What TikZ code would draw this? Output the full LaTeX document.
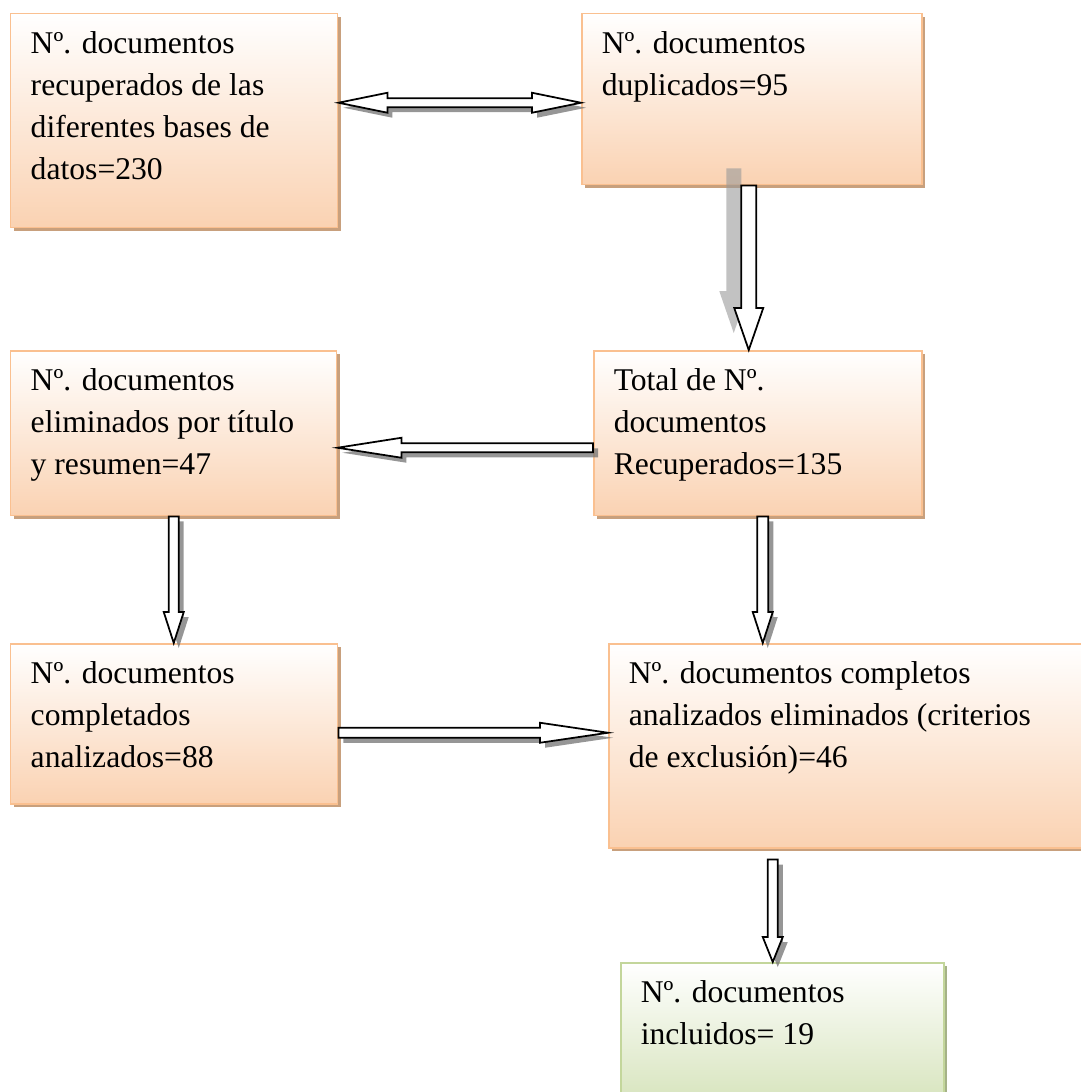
\documentclass[tikz,border=0pt]{standalone}
\usepackage{fontspec}
\setmainfont{Liberation Serif}
\usetikzlibrary{calc,shadows}

\definecolor{boxline}{RGB}{250,192,144}
\definecolor{boxfill}{RGB}{250,210,178}
\definecolor{boxshade}{RGB}{200,160,125}
\definecolor{greenline}{RGB}{195,214,155}
\definecolor{greenfill}{RGB}{215,228,189}
\definecolor{greenshade}{RGB}{165,178,135}

\newlength\px
\setlength\px{0.02cm}
\newcommand\boxtext[3]{\parbox[t][#2\px][t]{#1\px}{#3}}

% block arrow: [options]{tail}{tip}{head length}{shaft half}{head half}
\newcommand\blockarrow[6][]{%
  \coordinate (bt) at #2;
  \coordinate (bp) at #3;
  \coordinate (bh) at ($(bp)!#4*0.02cm!(bt)$);
  \draw[arrowline,#1] ($(bt)!#5*0.02cm!90:(bp)$) -- ($(bh)!#5*0.02cm!-90:(bt)$)
    -- ($(bh)!#6*0.02cm!-90:(bt)$) -- (bp) -- ($(bh)!#6*0.02cm!90:(bt)$)
    -- ($(bh)!#5*0.02cm!90:(bt)$) -- ($(bt)!#5*0.02cm!-90:(bp)$) -- cycle;
}
% arrow with a head at both ends
\newcommand\twinarrow[6][]{%
  \coordinate (bt) at #2;
  \coordinate (bp) at #3;
  \coordinate (ha) at ($(bt)!#4*0.02cm!(bp)$);
  \coordinate (hb) at ($(bp)!#4*0.02cm!(bt)$);
  \draw[arrowline,#1] (bt) -- ($(ha)!#6*0.02cm!90:(bp)$) -- ($(ha)!#5*0.02cm!90:(bp)$)
    -- ($(hb)!#5*0.02cm!-90:(bt)$) -- ($(hb)!#6*0.02cm!-90:(bt)$) -- (bp)
    -- ($(hb)!#6*0.02cm!90:(bt)$) -- ($(hb)!#5*0.02cm!90:(bt)$)
    -- ($(ha)!#5*0.02cm!-90:(bp)$) -- ($(ha)!#6*0.02cm!-90:(bp)$) -- cycle;
}

\tikzset{
  card/.style={line width=0.03cm, top color=white, anchor=north west,
    inner xsep=0.4cm, inner ysep=0.36cm, font=\fontsize{18}{23.9}\selectfont},
  stage/.style={card, draw=boxline, bottom color=boxfill,
    drop shadow={shadow xshift=0.06cm, shadow yshift=-0.06cm, fill=boxshade, opacity=1}},
  final/.style={card, draw=greenline, bottom color=greenfill,
    drop shadow={shadow xshift=0.06cm, shadow yshift=-0.06cm, fill=greenshade, opacity=1}},
  arrowline/.style={draw=black, line width=0.035cm, fill=white, line join=miter},
  arrowshade/.style={drop shadow={shadow xshift=0.1cm, shadow yshift=-0.1cm, fill=black!55, opacity=.75}}
}

\begin{document}
\begin{tikzpicture}[x=0.02cm, y=-0.02cm]
  \useasboundingbox (0,0) rectangle (1080,1092);

  \node[stage] (src) at (10,13) {\boxtext{287}{178}{Nº. documentos\\ recuperados de las\\ diferentes bases de\\ datos=230}};
  \node[stage] (dup) at (581,13) {\boxtext{300}{135}{Nº. documentos\\ duplicados=95}};
  \node[stage] (elim) at (10,350) {\boxtext{286}{129}{Nº. documentos\\ eliminados por título\\ y resumen=47}};
  \node[stage] (total) at (593,350) {\boxtext{288}{129}{Total de Nº.\\ documentos\\ Recuperados=135}};
  \node[stage] (compl) at (10,643) {\boxtext{287}{124}{Nº. documentos\\ completados\\ analizados=88}};
  \node[stage] (excl) at (608,643) {\boxtext{440}{168}{Nº. documentos completos\\ analizados eliminados (criterios\\ de exclusión)=46}};
  \node[final] (incl) at (620,962) {\boxtext{283}{104}{Nº. documentos\\ incluidos= 19}};

  \twinarrow[arrowshade]{($(src.east)+(0,-18)$)}{($(src.east -| dup.west)+(0,-18)$)}{49}{4.5}{10}
  \blockarrow[drop shadow={shadow xshift=-0.3cm, shadow yshift=0.34cm, fill=black!40, opacity=.6}]{($(dup.south)+(-3,0)$)}{($(dup.south |- total.north)+(-3,0)$)}{42}{7.5}{14.5}
  \blockarrow[arrowshade]{($(total.west)+(0,14.5)$)}{($(total.west -| elim.east)+(0,14.5)$)}{64}{4.5}{10}
  \blockarrow[arrowshade]{(elim.south)}{(elim.south |- compl.north)}{31}{5}{10}
  \blockarrow[arrowshade]{($(total.south)+(5,0)$)}{($(total.south |- excl.north)+(5,0)$)}{31}{5.5}{10}
  \blockarrow[arrowshade]{($(compl.east)+(0,9)$)}{($(compl.east -| excl.west)+(0,9)$)}{68}{5}{10}
  \blockarrow[arrowshade]{($(excl.south -| incl.north)+(-9.5,11)$)}{($(incl.north)+(-9.5,0)$)}{25}{5}{10}
\end{tikzpicture}
\end{document}
